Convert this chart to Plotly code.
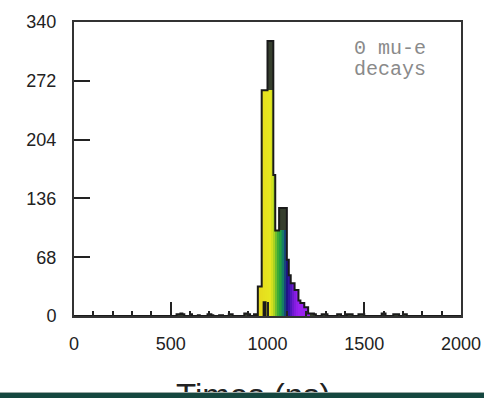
import plotly.graph_objects as go
from plotly.colors import sample_colorscale

# Main decay-time peak: 10 ns bins (left edges) and counts, drawn with rainbow fill
peak_t = list(range(950, 1220, 10))
peak_n = [34, 34, 261, 261, 261, 261, 261, 261, 163, 99, 99, 99, 99, 99, 99,
          65, 47, 38, 38, 30, 30, 18, 15, 15, 10, 10, 3]

# Second histogram (dark fill): background hits plus the narrow spikes
other_t = [530, 540, 550, 560, 600, 640, 690, 700, 710, 750, 760, 800, 810,
           880, 890, 900, 930, 980, 1000, 1010, 1020, 1060, 1070, 1080, 1090,
           1220, 1230, 1240, 1280, 1290, 1300, 1360, 1370, 1410, 1420, 1430,
           1470, 1480, 1490, 1590, 1600, 1650, 1660, 1670, 1700, 1710]
other_n = [2, 2, 3, 2, 2, 1, 2, 2, 1, 1, 1, 2, 2,
           3, 3, 2, 2, 16, 318, 318, 318, 125, 125, 125, 125,
           3, 3, 2, 2, 2, 2, 2, 2, 2, 2, 2,
           2, 2, 2, 3, 3, 2, 2, 2, 2, 2]

bin_w = 10
x_range = [0, 2000]
y_ticks = [0, 68, 136, 204, 272, 340]
x_ticks = [0, 500, 1000, 1500, 2000]
x_title = "Times (ns)"
note_lines = ["0 mu-e", "decays"]

# rainbow fill along the time axis
rainbow = [
    [0.00, "#e6d81c"], [0.24, "#e6e620"], [0.30, "#c6dc1e"], [0.34, "#80c42a"],
    [0.40, "#2ea83a"], [0.48, "#169050"], [0.52, "#186a7c"], [0.56, "#16167a"],
    [0.62, "#3816aa"], [0.70, "#7a1ad8"], [0.78, "#9a22f0"], [1.00, "#9a22f0"],
]
t0, t1 = 950, 1220
peak_colors = sample_colorscale(rainbow, [(t + bin_w / 2 - t0) / (t1 - t0) for t in peak_t])

# envelope of both histograms on a common grid for the black outline
edges = list(range(x_range[0], x_range[1] + bin_w, bin_w))
fill_map = dict(zip(peak_t, peak_n))
other_map = dict(zip(other_t, other_n))
env = [max(fill_map.get(e, 0), other_map.get(e, 0)) for e in edges[:-1]]

fig = go.Figure()

fig.add_trace(go.Bar(
    x=other_t, y=other_n, width=bin_w, offset=0,
    marker=dict(color="#363f2e", line=dict(width=0)),
    hoverinfo="skip", showlegend=False,
))
fig.add_trace(go.Bar(
    x=peak_t, y=peak_n, width=bin_w, offset=0,
    marker=dict(color=peak_colors, line=dict(width=0)),
    hoverinfo="skip", showlegend=False,
))

# outline of the combined histogram
fig.add_trace(go.Scatter(
    x=edges, y=env + [env[-1]], mode="lines", line_shape="hv",
    line=dict(color="#1a1a1a", width=2),
    hoverinfo="skip", showlegend=False,
))

# outline of dark bins lying inside the filled peak
inner_x, inner_y = [], []
for t, n in zip(other_t, other_n):
    if 0 < n < fill_map.get(t, 0):
        inner_x += [t, t, t + bin_w, t + bin_w, None]
        inner_y += [0, n, n, 0, None]
fig.add_trace(go.Scatter(
    x=inner_x, y=inner_y, mode="lines",
    line=dict(color="#1a1a1a", width=2),
    hoverinfo="skip", showlegend=False,
))

mono = dict(family="Liberation Mono, Courier New, monospace", size=20, color="#8a8a8a")
for line, ypos in zip(note_lines, [0.955, 0.885]):
    fig.add_annotation(
        x=0.915, y=ypos, xref="paper", yref="paper", xanchor="right", yanchor="top",
        text=line, showarrow=False, font=mono,
    )

# axis title, partly hidden by the footer strip below the figure
fig.add_annotation(
    x=0.465, y=-0.2, xref="paper", yref="paper", xanchor="center", yanchor="top",
    text=x_title, showarrow=False,
    font=dict(family="Liberation Sans, Arial, Helvetica, sans-serif", size=33, color="#222222"),
)

axis_font = dict(family="Liberation Sans, Arial, Helvetica, sans-serif", size=18, color="#222222")

fig.update_layout(
    width=484, height=392,
    margin=dict(l=74, r=23, t=22, b=76),
    paper_bgcolor="white", plot_bgcolor="white",
    barmode="overlay", bargap=0,
    xaxis=dict(
        range=x_range, tickvals=x_ticks, ticks="inside", ticklen=14, tickwidth=2,
        tickcolor="#222222", showline=True, linecolor="#333333", linewidth=2,
        mirror=True, showgrid=False, zeroline=False, tickfont=axis_font,
        ticklabelstandoff=10, automargin=False,
        minor=dict(dtick=100, tick0=0, ticks="inside", ticklen=5, tickwidth=2,
                   tickcolor="#222222", showgrid=False),
    ),
    yaxis=dict(
        range=[0, 340], tickvals=y_ticks, ticks="inside", ticklen=16, tickwidth=2,
        tickcolor="#222222", showline=True, linecolor="#333333", linewidth=2,
        mirror=True, showgrid=False, zeroline=False, tickfont=axis_font,
        ticklabelstandoff=12, automargin=False,
    ),
)

fig.write_html(
    "out.html",
    post_script="document.body.style.margin='0';"
                "document.body.style.background='#15473f';"
                "document.getElementById('{plot_id}').style.borderBottom='1px solid #9aa8a4';",
)
